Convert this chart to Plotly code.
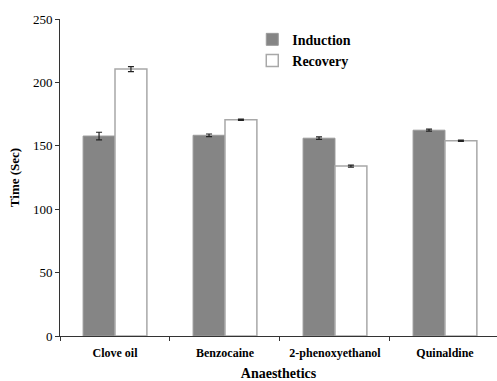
import plotly.graph_objects as go

categories = ["Clove oil", "Benzocaine", "2-phenoxyethanol", "Quinaldine"]
induction = [157.7, 158.3, 156.0, 162.3]
induction_err = [3.0, 1.0, 1.0, 0.8]
recovery = [210.5, 170.5, 134.0, 154.0]
recovery_err = [2.0, 0.5, 0.8, 0.5]
y_ticks = [0, 50, 100, 150, 200, 250]

FONT = "Times New Roman, Liberation Serif, DejaVu Serif, serif"

fig = go.Figure()
fig.add_trace(go.Bar(
    name="<b>Induction</b>", x=categories, y=induction,
    marker=dict(color="#858585", line=dict(color="#9a9a9a", width=1)),
    error_y=dict(type="data", array=induction_err, color="#222222", thickness=1.2, width=3),
))
fig.add_trace(go.Bar(
    name="<b>Recovery</b>", x=categories, y=recovery,
    marker=dict(color="#ffffff", line=dict(color="#a8a8a8", width=1.5)),
    error_y=dict(type="data", array=recovery_err, color="#222222", thickness=1.2, width=3),
))

fig.update_layout(
    width=497, height=381,
    margin=dict(l=60, r=0, t=19, b=45),
    paper_bgcolor="white", plot_bgcolor="white",
    barmode="group", bargap=0.42, bargroupgap=0,
    font=dict(family=FONT, size=12, color="black"),
    showlegend=True,
    legend=dict(x=0.44, y=0.985, xanchor="left", yanchor="top",
                font=dict(family=FONT, size=14, color="black"),
                bgcolor="rgba(0,0,0,0)", itemwidth=30),
    xaxis=dict(
        type="category", range=[-0.5, 3.473], automargin=False,
        tickvals=categories, ticktext=["<b>%s</b>" % c for c in categories],
        showline=True, linecolor="#333333", linewidth=1,
        ticks="outside", ticklen=4, tickcolor="#333333", tickson="boundaries",
        ticklabelstandoff=6,
        showgrid=False,
        tickfont=dict(family=FONT, size=12, color="black"),
        title=dict(text="<b>Anaesthetics</b>", font=dict(family=FONT, size=14), standoff=16),
    ),
    yaxis=dict(
        range=[0, 250], tickvals=y_ticks, automargin=False,
        showline=True, linecolor="#333333", linewidth=1,
        ticks="outside", ticklen=4, tickcolor="#333333",
        showgrid=False, zeroline=False,
        tickfont=dict(family=FONT, size=13, color="black"),
        title=dict(text="<b>Time (Sec)</b>", font=dict(family=FONT, size=13), standoff=10),
    ),
)

fig.write_html("out.html", config={"displayModeBar": False},
               post_script="document.body.style.margin='0';")
